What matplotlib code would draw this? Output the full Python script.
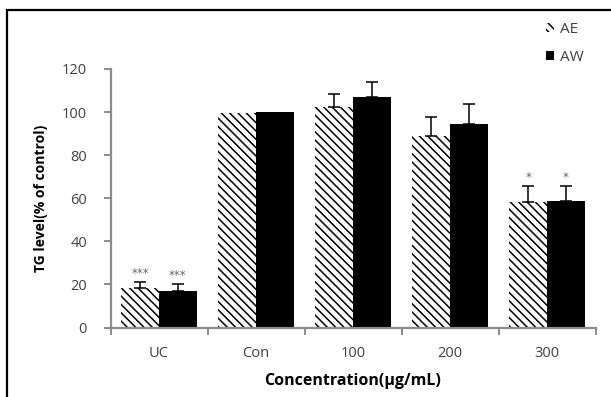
import matplotlib
matplotlib.use("Agg")
import matplotlib.pyplot as plt
import numpy as np
from matplotlib.patches import Rectangle

categories = ["UC", "Con", "100", "200", "300"]
ae_values = [18.3, 99.6, 102.2, 89.0, 58.1]
ae_err = [2.8, 0, 6.3, 8.9, 7.5]
aw_values = [17.1, 100.2, 107.0, 94.5, 58.6]
aw_err = [3.1, 0, 7.1, 9.3, 7.2]
ae_marks = ["***", "", "", "", "*"]
aw_marks = ["***", "", "", "", "*"]
yticks = [0, 20, 40, 60, 80, 100, 120]

plt.rcParams['font.family'] = ['Open Sans', 'DejaVu Sans']
plt.rcParams['hatch.linewidth'] = 1.1

W, H = 611, 397
fig = plt.figure(figsize=(W / 100, H / 100), dpi=100)
fig.patches.append(Rectangle((7 / W, -0.1), 1.2, 1 - 10 / H + 0.1, transform=fig.transFigure,
                             fill=False, edgecolor='black', linewidth=1.6))
ax = fig.add_axes([110.5 / W, 1 - 327.5 / H, 485 / W, 258.5 / H])

x = np.arange(len(categories))
w = 0.387
b1 = ax.bar(x - w / 2, ae_values, w, color='white', edgecolor='black', hatch='\\\\\\\\',
            linewidth=0, label='AE')
b2 = ax.bar(x + w / 2, aw_values, w, color='black', edgecolor='black', linewidth=0, label='AW')
for i in range(len(categories)):
    for xc, val, err, mark in ((x[i] - w / 2, ae_values[i], ae_err[i], ae_marks[i]),
                               (x[i] + w / 2, aw_values[i], aw_err[i], aw_marks[i])):
        if err > 0:
            ax.errorbar(xc, val, yerr=[[0], [err]], fmt='none', ecolor='black',
                        elinewidth=1.1, capsize=4, capthick=1.1)
        if mark:
            ax.text(xc, val + err + 1.0, mark, ha='center', va='bottom',
                    fontsize=8.5, color='#666666', family=['DejaVu Sans'])

ax.set_xlim(-0.5, 4.5)
ax.set_ylim(0, 120)
ax.set_yticks(yticks)
ax.set_yticklabels([str(t) for t in yticks], fontsize=10.5, color='#404040')
ax.set_xticks(x)
ax.set_xticklabels(categories, fontsize=10.5, color='#404040')
ax.tick_params(axis='x', length=0, pad=13)
ax.set_xticks(np.arange(-0.5, 5, 1), minor=True)
ax.tick_params(axis='x', which='minor', length=5, color='#8c8c8c', width=1.4)
ax.tick_params(axis='y', length=5, color='#8c8c8c', width=1.4, pad=12)
for s in ['top', 'right']:
    ax.spines[s].set_visible(False)
for s in ['left', 'bottom']:
    ax.spines[s].set_color('#8c8c8c')
    ax.spines[s].set_linewidth(1.6)

ax.set_ylabel("TG level(% of control)", fontsize=10, fontweight='bold', labelpad=10)
ax.set_xlabel("Concentration(μg/mL)", fontsize=11.5, fontweight='bold', labelpad=9)

leg = fig.legend(handles=[b1, b2], labels=['AE', 'AW'], loc='upper left',
                 bbox_to_anchor=(546 / W, 1 - 22 / H), frameon=False, fontsize=11,
                 handlelength=0.55, handleheight=0.55, handletextpad=0.35, labelspacing=0.85,
                 labelcolor='#404040', borderaxespad=0, borderpad=0)

fig.savefig("out.png", dpi=100)
